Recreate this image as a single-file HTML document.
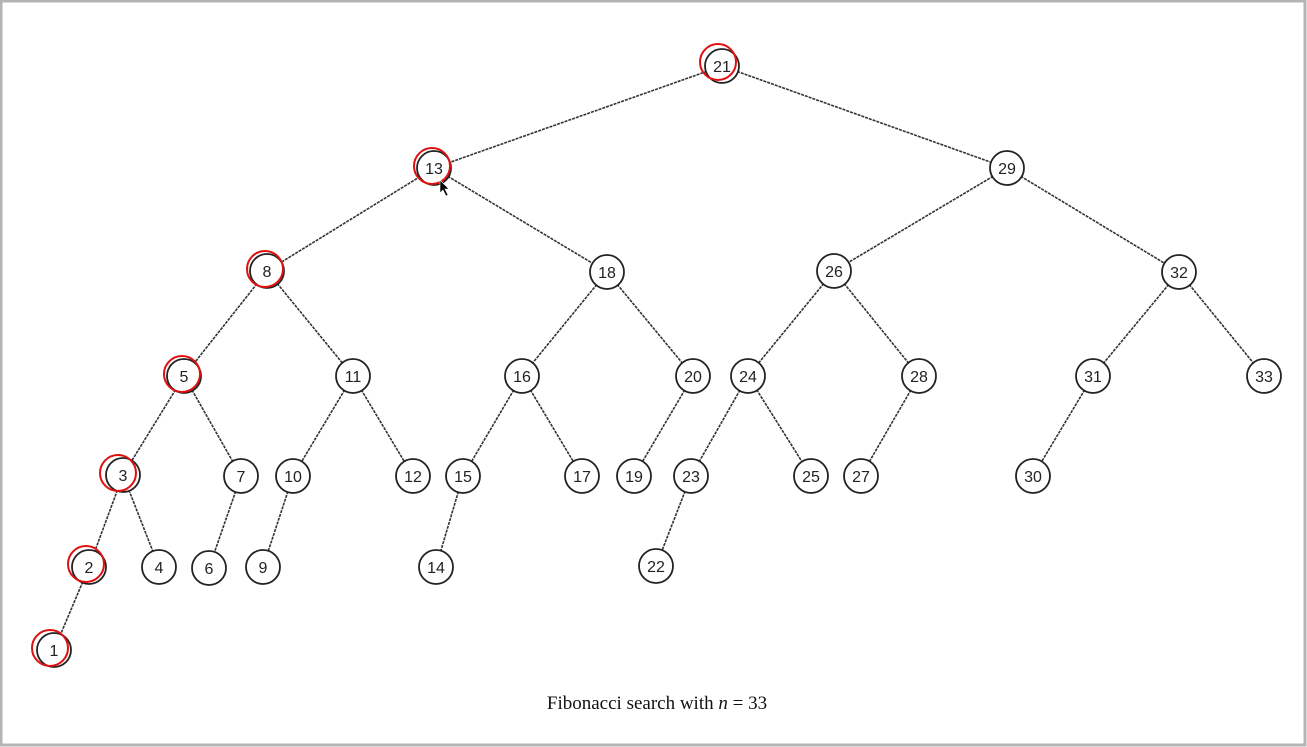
<!DOCTYPE html>
<html><head><meta charset="utf-8"><style>
html,body{margin:0;padding:0;background:#fff;}
body{width:1307px;height:747px;overflow:hidden;}
svg{display:block;}
</style></head><body>
<svg width="1307" height="747" viewBox="0 0 1307 747" xmlns="http://www.w3.org/2000/svg">
<rect x="0" y="0" width="1307" height="747" fill="#fff"/>
<rect x="1" y="1" width="1304" height="744" fill="none" stroke="#b4b4b4" stroke-width="3"/>
<g stroke="#333" stroke-width="1.6" stroke-dasharray="3 1">
<line x1="722" y1="66" x2="434" y2="168"/>
<line x1="722" y1="66" x2="1007" y2="168"/>
<line x1="434" y1="168" x2="267" y2="271"/>
<line x1="434" y1="168" x2="607" y2="272"/>
<line x1="1007" y1="168" x2="834" y2="271"/>
<line x1="1007" y1="168" x2="1179" y2="272"/>
<line x1="267" y1="271" x2="184" y2="376"/>
<line x1="267" y1="271" x2="353" y2="376"/>
<line x1="607" y1="272" x2="522" y2="376"/>
<line x1="607" y1="272" x2="693" y2="376"/>
<line x1="834" y1="271" x2="748" y2="376"/>
<line x1="834" y1="271" x2="919" y2="376"/>
<line x1="1179" y1="272" x2="1093" y2="376"/>
<line x1="1179" y1="272" x2="1264" y2="376"/>
<line x1="184" y1="376" x2="123" y2="475"/>
<line x1="184" y1="376" x2="241" y2="476"/>
<line x1="353" y1="376" x2="293" y2="476"/>
<line x1="353" y1="376" x2="413" y2="476"/>
<line x1="522" y1="376" x2="463" y2="476"/>
<line x1="522" y1="376" x2="582" y2="476"/>
<line x1="693" y1="376" x2="634" y2="476"/>
<line x1="748" y1="376" x2="691" y2="476"/>
<line x1="748" y1="376" x2="811" y2="476"/>
<line x1="919" y1="376" x2="861" y2="476"/>
<line x1="1093" y1="376" x2="1033" y2="476"/>
<line x1="123" y1="475" x2="89" y2="567"/>
<line x1="123" y1="475" x2="159" y2="567"/>
<line x1="241" y1="476" x2="209" y2="568"/>
<line x1="293" y1="476" x2="263" y2="567"/>
<line x1="463" y1="476" x2="436" y2="567"/>
<line x1="691" y1="476" x2="656" y2="566"/>
<line x1="89" y1="567" x2="54" y2="650"/>
</g>
<g fill="#fff" stroke="#222" stroke-width="1.8">
<circle cx="722" cy="66" r="17"/><circle cx="434" cy="168" r="17"/><circle cx="1007" cy="168" r="17"/>
<circle cx="267" cy="271" r="17"/><circle cx="607" cy="272" r="17"/><circle cx="834" cy="271" r="17"/><circle cx="1179" cy="272" r="17"/>
<circle cx="184" cy="376" r="17"/><circle cx="353" cy="376" r="17"/><circle cx="522" cy="376" r="17"/><circle cx="693" cy="376" r="17"/>
<circle cx="748" cy="376" r="17"/><circle cx="919" cy="376" r="17"/><circle cx="1093" cy="376" r="17"/><circle cx="1264" cy="376" r="17"/>
<circle cx="123" cy="475" r="17"/><circle cx="241" cy="476" r="17"/><circle cx="293" cy="476" r="17"/><circle cx="413" cy="476" r="17"/>
<circle cx="463" cy="476" r="17"/><circle cx="582" cy="476" r="17"/><circle cx="634" cy="476" r="17"/><circle cx="691" cy="476" r="17"/>
<circle cx="811" cy="476" r="17"/><circle cx="861" cy="476" r="17"/><circle cx="1033" cy="476" r="17"/>
<circle cx="89" cy="567" r="17"/><circle cx="159" cy="567" r="17"/><circle cx="209" cy="568" r="17"/><circle cx="263" cy="567" r="17"/>
<circle cx="436" cy="567" r="17"/><circle cx="656" cy="566" r="17"/><circle cx="54" cy="650" r="17"/>
</g>
<g font-family="Liberation Sans, sans-serif" font-size="16" fill="#222" text-anchor="middle">
<text x="722" y="72">21</text><text x="434" y="174">13</text><text x="1007" y="174">29</text>
<text x="267" y="277">8</text><text x="607" y="278">18</text><text x="834" y="277">26</text><text x="1179" y="278">32</text>
<text x="184" y="382">5</text><text x="353" y="382">11</text><text x="522" y="382">16</text><text x="693" y="382">20</text>
<text x="748" y="382">24</text><text x="919" y="382">28</text><text x="1093" y="382">31</text><text x="1264" y="382">33</text>
<text x="123" y="481">3</text><text x="241" y="482">7</text><text x="293" y="482">10</text><text x="413" y="482">12</text>
<text x="463" y="482">15</text><text x="582" y="482">17</text><text x="634" y="482">19</text><text x="691" y="482">23</text>
<text x="811" y="482">25</text><text x="861" y="482">27</text><text x="1033" y="482">30</text>
<text x="89" y="573">2</text><text x="159" y="573">4</text><text x="209" y="574">6</text><text x="263" y="573">9</text>
<text x="436" y="573">14</text><text x="656" y="572">22</text><text x="54" y="656">1</text>
</g>
<g fill="none" stroke="#e01010" stroke-width="2">
<circle cx="718" cy="62" r="18"/><circle cx="432" cy="166" r="18"/><circle cx="265" cy="269" r="18"/>
<circle cx="182" cy="374" r="18"/><circle cx="118" cy="473" r="18"/><circle cx="86" cy="564" r="18"/><circle cx="50" cy="648" r="18"/>
</g>
<path d="M440,180 L440,193 L443,190 L446,196 L448,195 L445,189 L449,189 Z" fill="#000" stroke="#fff" stroke-width="0.6"/>
<text x="657" y="709" font-family="Liberation Serif, serif" font-size="19" fill="#111" text-anchor="middle">Fibonacci search with <tspan font-style="italic">n</tspan> = 33</text>
</svg>
</body></html>
